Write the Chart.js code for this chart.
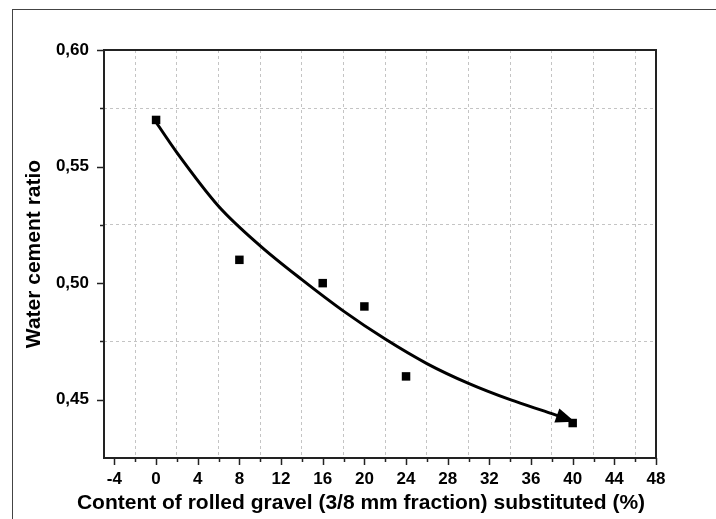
<!DOCTYPE html>
<html>
<head>
<meta charset="utf-8">
<script src="https://cdn.jsdelivr.net/npm/chart.js@4.4.1/dist/chart.umd.min.js"></script>
<style>
  html, body { margin: 0; padding: 0; background: #fff; }
</style>
</head>
<body>
<canvas id="chart" width="716" height="519"></canvas>
<script>
// measured points
const contentPct = [0, 8, 16, 20, 24, 40];
const waterCementRatio = [0.57, 0.51, 0.50, 0.49, 0.46, 0.44];

// fitted curve (ends in an arrow)
const fitX = [0, 2, 6, 10, 14, 18, 22, 26, 30, 34, 38, 40.2];
const fitY = [0.569, 0.556, 0.533, 0.516, 0.5015, 0.488, 0.476, 0.4655, 0.457, 0.450, 0.444, 0.4405];

const xTickValues = [-4, -2, 0, 2, 4, 6, 8, 10, 12, 14, 16, 18, 20, 22, 24, 26, 28, 30, 32, 34, 36, 38, 40, 42, 44, 46, 48];
const yTickValues = [0.45, 0.475, 0.50, 0.525, 0.55, 0.575, 0.60];

const xTitle = "Content of rolled gravel (3/8 mm fraction) substituted (%)";
const yTitle = "Water cement ratio";

const isMajorX = v => v % 4 === 0;
const isMajorY = v => Math.round(v * 1000) % 50 === 0;

Chart.defaults.font.family = '"Liberation Sans", Arial, sans-serif';
Chart.defaults.color = "#000";

const frameAndTicks = {
  id: "frameAndTicks",
  afterDraw(chart) {
    const ctx = chart.ctx;
    const { left, top, right, bottom } = chart.chartArea;
    const xs = chart.scales.x, ys = chart.scales.y;
    ctx.save();

    // outer figure frame
    ctx.strokeStyle = "#444";
    ctx.lineWidth = 1;
    ctx.strokeRect(12.5, 9.5, 1000, 1000);

    // arrow head at the end of the fit curve
    const pts = chart.getDatasetMeta(1).data;
    const tip = pts[pts.length - 1];
    const prev = pts[pts.length - 2];
    let bx = tip.cp1x, by = tip.cp1y;
    if (bx === undefined || (bx === tip.x && by === tip.y)) { bx = prev.x; by = prev.y; }
    const ang = Math.atan2(tip.y - by, tip.x - bx);
    const len = 19, hw = 7.5;
    ctx.fillStyle = "#000";
    ctx.beginPath();
    ctx.moveTo(tip.x, tip.y);
    ctx.lineTo(tip.x - len * Math.cos(ang) + hw * Math.sin(ang), tip.y - len * Math.sin(ang) - hw * Math.cos(ang));
    ctx.lineTo(tip.x - len * Math.cos(ang) - hw * Math.sin(ang), tip.y - len * Math.sin(ang) + hw * Math.cos(ang));
    ctx.closePath();
    ctx.fill();

    // tick marks (outside)
    ctx.strokeStyle = "#222";
    ctx.lineWidth = 1.5;
    ctx.beginPath();
    xTickValues.forEach(v => {
      const p = Math.round(xs.getPixelForValue(v)) + 0.5;
      ctx.moveTo(p, bottom);
      ctx.lineTo(p, bottom + (isMajorX(v) ? 7 : 4));
    });
    yTickValues.forEach(v => {
      const p = Math.round(ys.getPixelForValue(v)) + 0.5;
      ctx.moveTo(left, p);
      ctx.lineTo(left - (isMajorY(v) ? 7 : 4), p);
    });
    ctx.stroke();

    // plot frame
    ctx.strokeStyle = "#222";
    ctx.lineWidth = 2;
    ctx.strokeRect(left, top, right - left, bottom - top);

    // x axis title
    ctx.font = 'bold 21px "Liberation Sans", Arial, sans-serif';
    ctx.fillStyle = "#000";
    ctx.textAlign = "center";
    ctx.textBaseline = "middle";
    ctx.fillText(xTitle, 361, 503);
    ctx.restore();
  }
};

new Chart(document.getElementById("chart"), {
  type: "scatter",
  data: {
    datasets: [
      {
        label: "Measured",
        data: contentPct.map((x, i) => ({ x: x, y: waterCementRatio[i] })),
        pointStyle: "rect",
        pointRadius: 6,
        pointHoverRadius: 6,
        backgroundColor: "#000",
        borderColor: "#000",
        borderWidth: 0,
        order: 0,
      },
      {
        label: "Fit",
        data: fitX.map((x, i) => ({ x: x, y: fitY[i] })),
        showLine: true,
        borderColor: "#000",
        borderWidth: 3,
        pointRadius: 0,
        tension: 0.4,
        cubicInterpolationMode: "monotone",
        order: 1,
      },
    ],
  },
  options: {
    responsive: false,
    animation: false,
    layout: { padding: { left: 0, top: 50, right: 60, bottom: 0 } },
    plugins: {
      legend: { display: false },
      tooltip: { enabled: false },
    },
    scales: {
      x: {
        type: "linear",
        min: -5,
        max: 48,
        afterBuildTicks: s => { s.ticks = xTickValues.map(v => ({ value: v })); },
        afterFit: s => { s.height = 61; },
        ticks: {
          autoSkip: false,
          maxRotation: 0,
          padding: 11,
          font: { size: 17, weight: "bold" },
          color: "#000",
          callback: v => (isMajorX(v) ? String(v) : ""),
        },
        grid: {
          drawTicks: false,
          lineWidth: 1,
          color: c => (c.tick && !isMajorX(c.tick.value) ? "#c4c4c4" : "rgba(0,0,0,0)"),
        },
        border: { display: false, dash: [3, 3] },
      },
      y: {
        type: "linear",
        min: 0.425,
        max: 0.60,
        afterBuildTicks: s => { s.ticks = yTickValues.map(v => ({ value: v })); },
        afterFit: s => { s.width = 104; },
        ticks: {
          autoSkip: false,
          padding: 15,
          font: { size: 17, weight: "bold" },
          color: "#000",
          callback: v => (isMajorY(v) ? v.toFixed(2).replace(".", ",") : ""),
        },
        grid: {
          drawTicks: false,
          lineWidth: 1,
          color: c => (c.tick && !isMajorY(c.tick.value) ? "#c4c4c4" : "rgba(0,0,0,0)"),
        },
        border: { display: false, dash: [3, 3] },
        title: {
          display: true,
          text: yTitle,
          font: { size: 21, weight: "bold" },
          color: "#000",
          padding: { top: 22, bottom: 0 },
        },
      },
    },
  },
  plugins: [frameAndTicks],
});
</script>
</body>
</html>
